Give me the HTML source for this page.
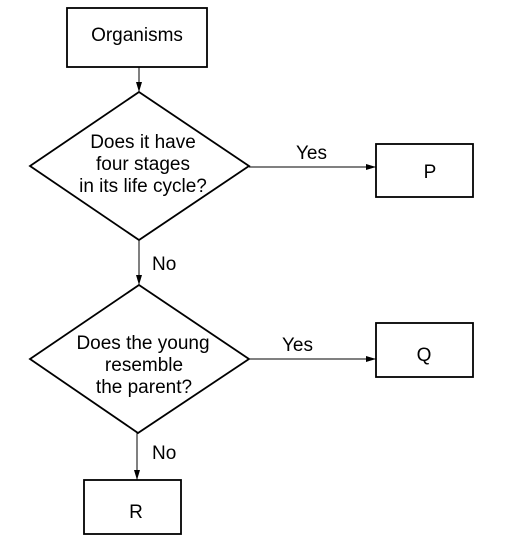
<!DOCTYPE html>
<html><head><style>body{margin:0;background:#fff}svg{display:block}</style></head>
<body>
<svg width="530" height="553" viewBox="0 0 530 553" xmlns="http://www.w3.org/2000/svg" font-family="Liberation Sans, Arial, sans-serif" font-size="19" fill="#000">
<defs><marker id="a" markerWidth="10" markerHeight="6" refX="10" refY="3" orient="auto" markerUnits="userSpaceOnUse"><path d="M0,0 L10,3 L0,6 z" fill="#000"/></marker></defs>
<g fill="none" stroke="#000" stroke-width="1.8">
<rect x="67" y="8" width="140" height="59"/>
<polygon points="139,92 249,166 139,240 30,166"/>
<rect x="376" y="144" width="97" height="53"/>
<polygon points="139,285 249,359 138,433 30,359"/>
<rect x="376" y="323" width="97" height="54"/>
<rect x="84" y="480" width="97" height="54"/>
</g>
<g stroke="#000" stroke-width="1" marker-end="url(#a)">
<line x1="139" y1="67" x2="139" y2="92"/>
<line x1="249" y1="167" x2="376" y2="167"/>
<line x1="139" y1="240" x2="139" y2="285"/>
<line x1="249" y1="359" x2="376" y2="359"/>
<line x1="137" y1="433" x2="137" y2="480"/>
</g>
<g text-anchor="middle">
<text x="137" y="41">Organisms</text>
<text x="143" y="148">Does it have</text>
<text x="143" y="170">four stages</text>
<text x="143" y="192">in its life cycle?</text>
<text x="430" y="178">P</text>
<text x="143" y="349">Does the young</text>
<text x="144" y="371">resemble</text>
<text x="144" y="393">the parent?</text>
<text x="424" y="361">Q</text>
<text x="136" y="518">R</text>
</g>
<text x="296" y="159">Yes</text>
<text x="152" y="270">No</text>
<text x="282" y="351">Yes</text>
<text x="152" y="459">No</text>
</svg>
</body></html>
